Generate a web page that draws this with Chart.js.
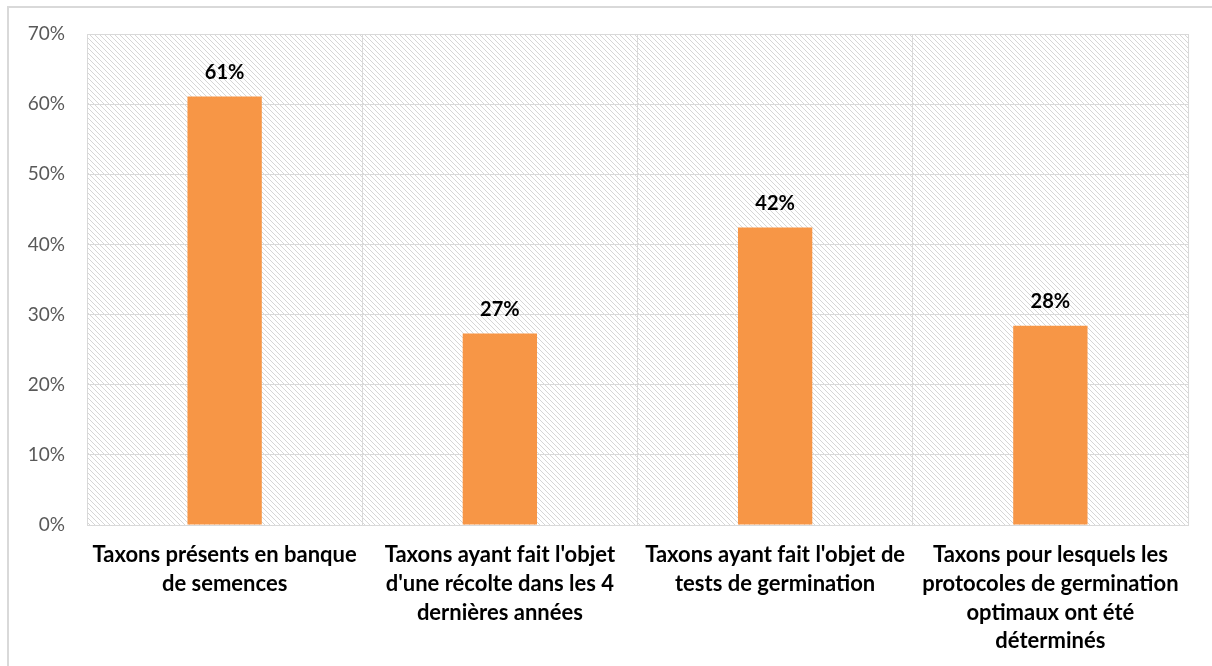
<!DOCTYPE html>
<html>
<head>
<meta charset="utf-8">
<script src="https://cdn.jsdelivr.net/npm/chart.js@4.4.0/dist/chart.umd.min.js"></script>
<style>
  html, body { margin: 0; padding: 0; background: #ffffff; }
  #wrap { position: relative; width: 1212px; height: 666px; }
</style>
</head>
<body>
<div id="wrap"><canvas id="chart" width="1212" height="666"></canvas></div>
<script>
// Chart data
const categories = [
  ["Taxons présents en banque", "de semences"],
  ["Taxons ayant fait l'objet", "d'une récolte dans les 4", "dernières années"],
  ["Taxons ayant fait l'objet de", "tests de germination"],
  ["Taxons pour lesquels les", "protocoles de germination", "optimaux ont été", "déterminés"]
];
const values = [61.1, 27.3, 42.4, 28.4];
const valueLabels = ["61%", "27%", "42%", "28%"];

const FONT = "Lato, 'Open Sans', sans-serif";

const backgroundPlugin = {
  id: "background",
  beforeDraw(chart) {
    const ctx = chart.ctx;
    const a = chart.chartArea;
    ctx.save();
    // outer frame
    ctx.strokeStyle = "#d9d9d9";
    ctx.lineWidth = 2;
    ctx.strokeRect(8, 7, 1220, 680);
    // hatched plot area
    const tile = document.createElement("canvas");
    tile.width = 5;
    tile.height = 5;
    const t = tile.getContext("2d");
    t.fillStyle = "#ffffff";
    t.fillRect(0, 0, 5, 5);
    t.fillStyle = "#d6d6d6";
    for (let i = 0; i < 5; i++) t.fillRect(i, i, 1, 1);
    ctx.fillStyle = ctx.createPattern(tile, "repeat");
    ctx.fillRect(a.left, a.top, a.right - a.left, a.bottom - a.top);
    ctx.restore();
  }
};

const valueLabelPlugin = {
  id: "valueLabels",
  afterDatasetsDraw(chart) {
    const ctx = chart.ctx;
    const meta = chart.getDatasetMeta(0);
    ctx.save();
    ctx.font = "bold 20px " + FONT;
    ctx.fillStyle = "#000000";
    ctx.textAlign = "center";
    ctx.textBaseline = "middle";
    meta.data.forEach((bar, i) => {
      ctx.fillText(valueLabels[i], bar.x, bar.y - 24);
    });
    ctx.restore();
  }
};

new Chart(document.getElementById("chart"), {
  type: "bar",
  data: {
    labels: categories,
    datasets: [{
      data: values,
      backgroundColor: "#F79646",
      borderWidth: 0,
      categoryPercentage: 1,
      barPercentage: 0.27
    }]
  },
  options: {
    responsive: false,
    animation: false,
    layout: { padding: { left: 0, right: 24, top: 34, bottom: 0 } },
    plugins: {
      legend: { display: false },
      tooltip: { enabled: false }
    },
    scales: {
      x: {
        grid: { color: "#d9d9d9", lineWidth: 1, drawTicks: false, offset: true },
        border: { color: "#d9d9d9" },
        ticks: {
          color: "#000000",
          font: { family: FONT, size: 22, weight: "bold", lineHeight: 1.3 },
          padding: 16,
          maxRotation: 0,
          autoSkip: false
        },
        afterFit(scale) { scale.height = 141; }
      },
      y: {
        min: 0,
        max: 70,
        grid: { color: "#d9d9d9", lineWidth: 1, drawTicks: false },
        border: { display: false },
        ticks: {
          stepSize: 10,
          color: "#595959",
          font: { family: FONT, size: 19 },
          padding: 22,
          callback: (v) => v + "%"
        },
        afterFit(scale) { scale.width = 87; }
      }
    }
  },
  plugins: [backgroundPlugin, valueLabelPlugin]
});
</script>
</body>
</html>
